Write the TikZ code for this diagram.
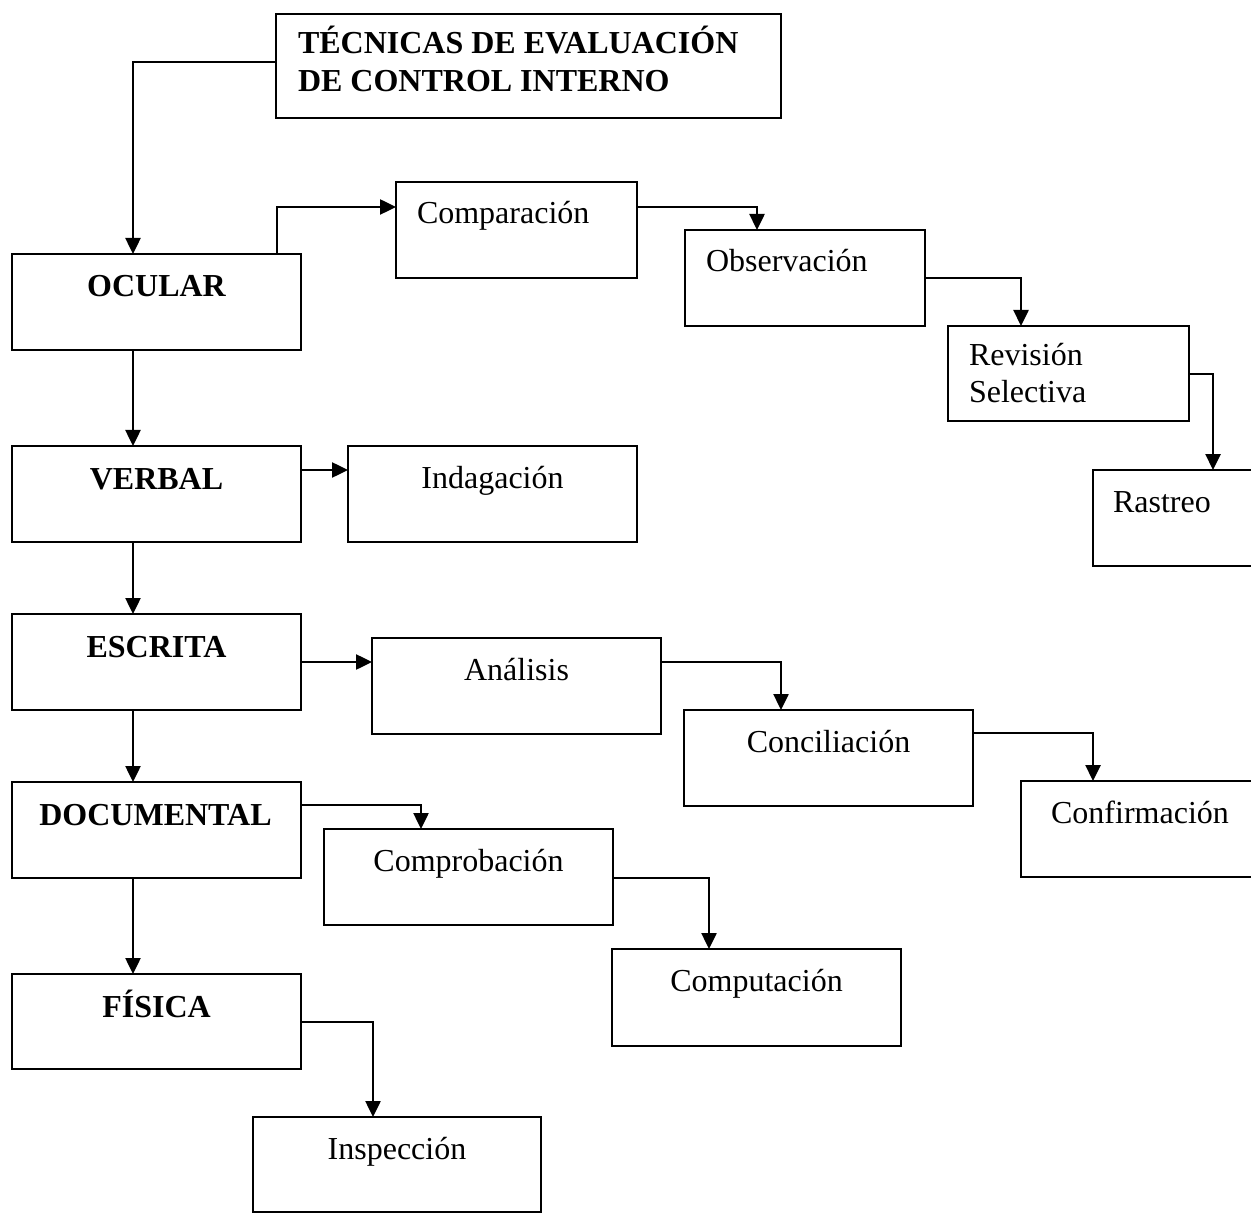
\documentclass[tikz,border=0pt]{standalone}
\usepackage{fontspec}
\setmainfont{Liberation Serif}
\usetikzlibrary{arrows.meta}
\newcommand\mybox[5]{\node[box, minimum width={(#4-#2)*0.5pt}, minimum height={(#5-#3)*0.5pt}] (#1) at ({(#2+#4)/2},{(#3+#5)/2}) {};}
\begin{document}
\begin{tikzpicture}[x=0.5pt,y=-0.5pt,
  box/.style={draw=black, line width=1.25pt, rectangle, inner sep=0pt, outer sep=0pt, fill=none},
  lbl/.style={inner sep=0pt, outer sep=0pt, font=\fontsize{16pt}{18.5pt}\selectfont},
  blbl/.style={lbl, font=\fontsize{16pt}{18.5pt}\selectfont\bfseries},
  arr/.style={draw=black, line width=1.25pt, -{Triangle[length=8pt,width=7.5pt]}}]
\useasboundingbox (0,0) rectangle (1251,1213);
\clip (0,0) rectangle (1251,1213);
% boxes
\mybox{title}{276}{14}{781}{118}
\mybox{ocular}{12}{254}{301}{350}
\mybox{verbal}{12}{446}{301}{542}
\mybox{escrita}{12}{614}{301}{710}
\mybox{doc}{12}{782}{301}{878}
\mybox{fis}{12}{974}{301}{1069}
\mybox{comp}{396}{182}{637}{278}
\mybox{obs}{685}{230}{925}{326}
\mybox{rev}{948}{326}{1189}{421}
\mybox{ras}{1093}{470}{1300}{566}
\mybox{ind}{348}{446}{637}{542}
\mybox{ana}{372}{638}{661}{734}
\mybox{conc}{684}{710}{973}{806}
\mybox{conf}{1021}{781}{1300}{877}
\mybox{cprob}{324}{829}{613}{925}
\mybox{cput}{612}{949}{901}{1046}
\mybox{insp}{253}{1117}{541}{1212}
% texts
\node[blbl, anchor=base west] (t-title1) at ([shift={(22,40)}]title.north west) {TÉCNICAS DE EVALUACIÓN};
\node[blbl, anchor=base west] (t-title2) at ([shift={(22,78)}]title.north west) {DE CONTROL INTERNO};
\node[blbl, anchor=base] (t-ocular) at ([shift={(0,43)}]ocular.north) {OCULAR};
\node[blbl, anchor=base] (t-verbal) at ([shift={(0,43)}]verbal.north) {VERBAL};
\node[blbl, anchor=base] (t-escrita) at ([shift={(0,43)}]escrita.north) {ESCRITA};
\node[blbl, anchor=base] (t-doc) at ([shift={(-1,43)}]doc.north) {DOCUMENTAL};
\node[blbl, anchor=base] (t-fis) at ([shift={(0,43)}]fis.north) {FÍSICA};
\node[lbl, anchor=base west] (t-comp) at ([shift={(21,42)}]comp.north west) {Comparación};
\node[lbl, anchor=base west] (t-obs) at ([shift={(21,42)}]obs.north west) {Observación};
\node[lbl, anchor=base west] (t-rev1) at ([shift={(21,40)}]rev.north west) {Revisión};
\node[lbl, anchor=base west] (t-rev2) at ([shift={(21,77)}]rev.north west) {Selectiva};
\node[lbl, anchor=base west] (t-ras) at ([shift={(20,42)}]ras.north west) {Rastreo};
\node[lbl, anchor=base] (t-ind) at ([shift={(0,42)}]ind.north) {Indagación};
\node[lbl, anchor=base] (t-ana) at ([shift={(0,42)}]ana.north) {Análisis};
\node[lbl, anchor=base] (t-conc) at ([shift={(0,42)}]conc.north) {Conciliación};
\node[lbl, anchor=base] (t-conf) at ([shift={(119,42)}]conf.north west) {Confirmación};
\node[lbl, anchor=base] (t-cprob) at ([shift={(0,42)}]cprob.north) {Comprobación};
\node[lbl, anchor=base] (t-cput) at ([shift={(0,42)}]cput.north) {Computación};
\node[lbl, anchor=base] (t-insp) at ([shift={(0,42)}]insp.north) {Inspección};
% connectors
\draw[arr] ([shift={(0,48)}]title.north west) -| ([shift={(121,0)}]ocular.north west);
\draw[arr] ([shift={(121,0)}]ocular.south west) -- ([shift={(121,0)}]verbal.north west);
\draw[arr] ([shift={(121,0)}]verbal.south west) -- ([shift={(121,0)}]escrita.north west);
\draw[arr] ([shift={(121,0)}]escrita.south west) -- ([shift={(121,0)}]doc.north west);
\draw[arr] ([shift={(121,0)}]doc.south west) -- ([shift={(121,0)}]fis.north west);
\draw[arr] ([shift={(265,0)}]ocular.north west) |- ([shift={(0,25)}]comp.north west);
\draw[arr] ([shift={(0,25)}]comp.north east) -| ([shift={(72,0)}]obs.north west);
\draw[arr] ([shift={(0,48)}]obs.north east) -| ([shift={(73,0)}]rev.north west);
\draw[arr] ([shift={(0,48)}]rev.north east) -| ([shift={(120,0)}]ras.north west);
\draw[arr] ([shift={(0,24)}]verbal.north east) -- ([shift={(0,24)}]ind.north west);
\draw[arr] ([shift={(0,48)}]escrita.north east) -- ([shift={(0,24)}]ana.north west);
\draw[arr] ([shift={(0,24)}]ana.north east) -| ([shift={(97,0)}]conc.north west);
\draw[arr] ([shift={(0,23)}]conc.north east) -| ([shift={(72,0)}]conf.north west);
\draw[arr] ([shift={(0,23)}]doc.north east) -| ([shift={(97,0)}]cprob.north west);
\draw[arr] ([shift={(0,49)}]cprob.north east) -| ([shift={(97,0)}]cput.north west);
\draw[arr] ([shift={(0,48)}]fis.north east) -| ([shift={(120,0)}]insp.north west);
\end{tikzpicture}
\end{document}
